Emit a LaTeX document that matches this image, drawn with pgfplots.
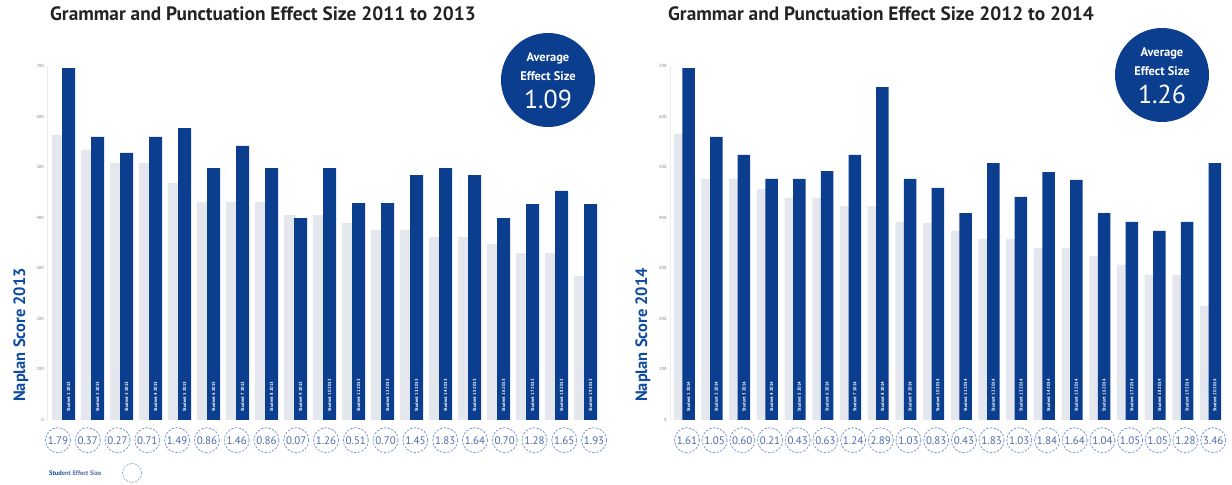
\documentclass[border=0pt]{standalone}
\usepackage{pgfplots}
\pgfplotsset{compat=1.18}
\usepackage{pgfplotstable}
\usepackage{fontspec}
\setmainfont{PT Sans}

\definecolor{dblue}{RGB}{12,62,143}
\definecolor{lbar}{RGB}{228,232,238}
\definecolor{titlec}{RGB}{35,35,35}
\definecolor{ylab}{RGB}{15,75,160}
\definecolor{cline}{RGB}{125,152,200}
\definecolor{ctext}{RGB}{78,108,168}

\pgfplotstableread{
n light dark es
1 564 696 1.79
2 534 560 0.37
3 508 528 0.27
4 508 560 0.71
5 469 577 1.49
6 431 498 0.86
7 431 542 1.46
8 431 498 0.86
9 405 399 0.07
10 405 498 1.26
11 390 429 0.51
12 376 429 0.70
13 376 484 1.45
14 362 498 1.83
15 362 484 1.64
16 348 399 0.70
17 330 427 1.28
18 330 453 1.65
19 285 427 1.93
}\dataA

\pgfplotstableread{
n light dark es
1 566 696 1.61
2 477 560 1.05
3 477 524 0.60
4 457 477 0.21
5 439 477 0.43
6 439 492 0.63
7 423 524 1.24
8 423 658 2.89
9 392 477 1.03
10 390 459 0.83
11 374 409 0.43
12 358 508 1.83
13 358 441 1.03
14 340 490 1.84
15 340 475 1.64
16 324 409 1.04
17 307 392 1.05
18 287 374 1.05
19 287 392 1.28
20 225 508 3.46
}\dataB

\pgfplotsset{
  panel/.style={
    scale only axis, anchor=south west, clip=false,
    ymin=0, ymax=700, ytick={0,100,...,700},
    axis x line=none, axis y line*=left,
    y axis line style={black!8},
    ytick style={draw=none},
    yticklabel style={font=\fontsize{4.5}{5}\selectfont, text=black!50},
    /pgf/number format/assume math mode=true,
    xtick=\empty,
  },
  circ/.style={only marks, mark=*, mark size=12.5bp,
    mark options={draw=cline, fill=white, dash pattern=on 2.4pt off 1.4pt, line width=0.8pt},
    nodes near coords, point meta=explicit symbolic,
    nodes near coords align={center},
    every node near coord/.append style={font=\fontsize{11}{10}\selectfont, text=ctext, inner sep=0pt}},
  stud/.style={draw=none, mark=none, point meta=explicit symbolic,
    nodes near coords align={west},
    every node near coord/.append style={rotate=90, font=\bfseries\fontsize{4.5}{5}\selectfont, text=white, inner sep=0pt}},
}

\begin{document}
\begin{tikzpicture}[x=1bp,y=1bp]
\path[use as bounding box] (0,0) rectangle (1232,485);

% ---------- Panel 1 ----------
\begin{axis}[panel, at={(47.4bp,65bp)}, width=562.6bp, height=354bp, xmin=0.45, xmax=19.85]
\addplot[ybar, bar width=0.43, bar shift=-0.18, fill=lbar, draw=none] table[x=n, y=light]{\dataA};
\addplot[ybar, bar width=0.45, bar shift=0.18, fill=dblue, draw=none] table[x=n, y=dark]{\dataA};
\addplot[stud, nodes near coords={Student \pgfplotspointmeta\ 2013}] table[x expr=\thisrow{n}+0.18, y expr=16, meta=n]{\dataA};
\addplot[circ] table[x expr=\thisrow{n}*1.027-0.212, y expr=-40, meta=es]{\dataA};
\end{axis}

% ---------- Panel 2 ----------
\begin{axis}[panel, at={(670bp,65bp)}, width=555.1bp, height=354bp, xmin=0.49, xmax=20.53]
\addplot[ybar, bar width=0.43, bar shift=-0.16, fill=lbar, draw=none] table[x=n, y=light]{\dataB};
\addplot[ybar, bar width=0.45, bar shift=0.16, fill=dblue, draw=none] table[x=n, y=dark]{\dataB};
\addplot[stud, nodes near coords={Student \pgfplotspointmeta\ 2014}] table[x expr=\thisrow{n}+0.16, y expr=16, meta=n]{\dataB};
\addplot[circ] table[x expr=\thisrow{n}+0.1, y expr=-40, meta=es]{\dataB};
\end{axis}

% titles
\node[anchor=base west, font=\bfseries\fontsize{19.4}{19}\selectfont, text=titlec, inner sep=0pt] at (50,464) {Grammar and Punctuation Effect Size 2011 to 2013};
\node[anchor=base west, font=\bfseries\fontsize{19.4}{19}\selectfont, text=titlec, inner sep=0pt] at (668,464) {Grammar and Punctuation Effect Size 2012 to 2014};

% y labels
\node[rotate=90, anchor=base, font=\bfseries\fontsize{16.5}{16}\selectfont, text=ylab, inner sep=0pt] at (25,150) {Naplan Score 2013};
\node[rotate=90, anchor=base, font=\bfseries\fontsize{16.5}{16}\selectfont, text=ylab, inner sep=0pt] at (647,150) {Naplan Score 2014};

% badges
\fill[dblue] (548,405) circle (47);
\node[text=white, font=\bfseries\fontsize{12.5}{12}\selectfont] at (548,427) {Average};
\node[text=white, font=\bfseries\fontsize{12.5}{12}\selectfont] at (548,409) {Effect Size};
\node[text=white, font=\fontsize{26}{26}\selectfont] at (548,386) {1.09};
\fill[dblue] (1162,410) circle (47);
\node[text=white, font=\bfseries\fontsize{12.5}{12}\selectfont] at (1162,432) {Average};
\node[text=white, font=\bfseries\fontsize{12.5}{12}\selectfont] at (1162,414) {Effect Size};
\node[text=white, font=\fontsize{26}{26}\selectfont] at (1162,391) {1.26};

% legend
\node[anchor=west, inner sep=0pt, font=\bfseries\fontsize{6.5}{7}\selectfont] at (49,12) {\textcolor{ylab}{Stud}\textcolor{ctext}{ent Effect Size}};
\draw[cline, dash pattern=on 2pt off 1.2pt, line width=0.6pt] (132,12) circle (9.5);
\end{tikzpicture}
\end{document}
